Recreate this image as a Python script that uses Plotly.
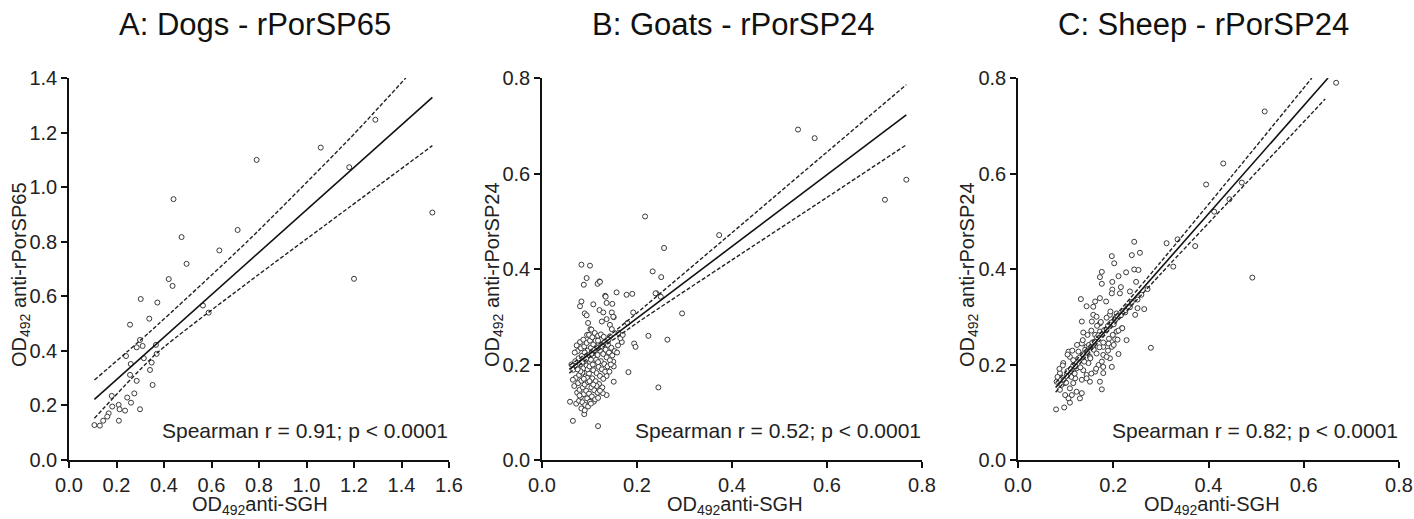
import plotly.graph_objects as go

# ---- data (x = OD492 anti-SGH, y = OD492 anti-rPorSP) ----
dogs_points = [
    (1.29, 1.247), (1.06, 1.145), (0.79, 1.10), (1.18, 1.073), (0.44, 0.956), (1.53, 0.907),
    (0.71, 0.843), (0.474, 0.817), (0.633, 0.768), (0.495, 0.719), (1.20, 0.664), (0.42, 0.663),
    (0.436, 0.638), (0.564, 0.566), (0.588, 0.540), (0.302, 0.590), (0.372, 0.577), (0.338, 0.518),
    (0.257, 0.496), (0.299, 0.44), (0.31, 0.418), (0.285, 0.413), (0.366, 0.422), (0.24, 0.381),
    (0.369, 0.389), (0.315, 0.373), (0.26, 0.352), (0.348, 0.357), (0.341, 0.33), (0.257, 0.312),
    (0.285, 0.29), (0.352, 0.275), (0.275, 0.244), (0.245, 0.229), (0.261, 0.21), (0.18, 0.235),
    (0.209, 0.202), (0.182, 0.196), (0.213, 0.186), (0.236, 0.181), (0.299, 0.186), (0.167, 0.171),
    (0.161, 0.159), (0.144, 0.144), (0.21, 0.144), (0.107, 0.128), (0.13, 0.126),
]
dogs_fit_x = [0.107, 1.53]
dogs_fit_y = [0.222, 1.329]
dogs_upper_x = [0.107, 0.341, 0.75, 1.183, 1.418]
dogs_upper_y = [0.293, 0.470, 0.800, 1.179, 1.400]
dogs_lower_x = [0.107, 0.369, 0.75, 1.183, 1.53]
dogs_lower_y = [0.153, 0.391, 0.648, 0.928, 1.152]

goats_points = [
    (0.539, 0.692), (0.574, 0.674), (0.722, 0.545), (0.767, 0.587), (0.217, 0.510), (0.373, 0.471),
    (0.257, 0.444), (0.233, 0.395), (0.251, 0.383), (0.241, 0.349), (0.25, 0.342), (0.295, 0.307),
    (0.19, 0.348), (0.178, 0.346), (0.192, 0.309), (0.18, 0.287), (0.224, 0.26), (0.264, 0.252),
    (0.194, 0.244), (0.197, 0.237), (0.182, 0.184), (0.245, 0.152), (0.151, 0.164), (0.136, 0.136),
    (0.118, 0.071), (0.089, 0.096), (0.065, 0.082), (0.059, 0.122), (0.109, 0.122), (0.083, 0.409),
    (0.101, 0.407), (0.094, 0.381), (0.088, 0.367), (0.121, 0.374), (0.117, 0.369), (0.157, 0.351),
    (0.133, 0.344), (0.083, 0.332), (0.08, 0.322), (0.108, 0.326), (0.136, 0.329), (0.148, 0.327),
    (0.09, 0.307), (0.094, 0.303), (0.121, 0.314), (0.129, 0.309), (0.147, 0.309), (0.151, 0.299),
    (0.136, 0.295), (0.126, 0.29), (0.097, 0.287), (0.102, 0.274), (0.143, 0.283), (0.147, 0.274),
    (0.095, 0.262), (0.161, 0.266), (0.143, 0.259), (0.168, 0.247), (0.15, 0.206), (0.151, 0.196),
    (0.142, 0.224), (0.136, 0.176), (0.134, 0.342), (0.122, 0.373), (0.239, 0.349), (0.15, 0.3),
    # dense cluster
    (0.072, 0.118), (0.078, 0.124), (0.085, 0.121), (0.091, 0.115), (0.082, 0.132), (0.088, 0.138),
    (0.095, 0.129), (0.101, 0.122), (0.074, 0.141), (0.079, 0.147), (0.086, 0.152), (0.093, 0.145),
    (0.099, 0.139), (0.105, 0.133), (0.112, 0.127), (0.068, 0.155), (0.076, 0.161), (0.083, 0.166),
    (0.09, 0.158), (0.097, 0.163), (0.104, 0.152), (0.11, 0.146), (0.117, 0.141), (0.071, 0.172),
    (0.078, 0.178), (0.085, 0.183), (0.092, 0.175), (0.099, 0.181), (0.106, 0.171), (0.113, 0.165),
    (0.12, 0.159), (0.127, 0.152), (0.066, 0.189), (0.073, 0.195), (0.08, 0.2), (0.087, 0.192),
    (0.094, 0.198), (0.101, 0.205), (0.108, 0.188), (0.115, 0.182), (0.122, 0.176), (0.129, 0.17),
    (0.07, 0.207), (0.077, 0.213), (0.084, 0.218), (0.091, 0.21), (0.098, 0.216), (0.105, 0.222),
    (0.112, 0.2), (0.119, 0.195), (0.126, 0.19), (0.133, 0.185), (0.075, 0.228), (0.082, 0.234),
    (0.089, 0.238), (0.096, 0.229), (0.103, 0.235), (0.11, 0.214), (0.117, 0.22), (0.124, 0.207),
    (0.131, 0.201), (0.138, 0.196), (0.08, 0.247), (0.087, 0.252), (0.094, 0.245), (0.101, 0.25),
    (0.108, 0.242), (0.115, 0.236), (0.122, 0.229), (0.129, 0.222), (0.136, 0.215), (0.143, 0.209),
    (0.099, 0.262), (0.106, 0.257), (0.113, 0.25), (0.12, 0.244), (0.127, 0.238), (0.134, 0.231),
    (0.141, 0.225), (0.148, 0.219), (0.104, 0.273), (0.111, 0.266), (0.118, 0.26), (0.125, 0.253),
    (0.132, 0.247), (0.139, 0.241), (0.146, 0.235), (0.153, 0.228), (0.083, 0.108), (0.09, 0.104),
    (0.097, 0.112), (0.103, 0.118), (0.065, 0.168), (0.062, 0.2), (0.069, 0.225), (0.073, 0.24),
    (0.096, 0.19), (0.1, 0.196), (0.103, 0.21), (0.107, 0.2), (0.11, 0.23), (0.114, 0.21),
    (0.118, 0.205), (0.09, 0.225), (0.085, 0.205), (0.095, 0.172), (0.1, 0.165), (0.088, 0.17),
    (0.081, 0.186), (0.093, 0.212), (0.118, 0.25), (0.124, 0.263), (0.13, 0.258), (0.14, 0.252),
    (0.16, 0.24), (0.165, 0.255), (0.17, 0.262), (0.158, 0.225), (0.145, 0.2), (0.142, 0.185),
    (0.128, 0.14), (0.118, 0.13), (0.075, 0.19), (0.079, 0.135), (0.115, 0.155), (0.122, 0.145),
    (0.108, 0.158),
]
goats_fit_x = [0.0575, 0.767]
goats_fit_y = [0.190, 0.723]
goats_upper_x = [0.0575, 0.11, 0.2, 0.4, 0.6, 0.767]
goats_upper_y = [0.198, 0.235, 0.308, 0.476, 0.645, 0.786]
goats_lower_x = [0.0575, 0.11, 0.2, 0.4, 0.6, 0.767]
goats_lower_y = [0.182, 0.223, 0.287, 0.419, 0.550, 0.660]

sheep_points = [
    (0.668, 0.79), (0.518, 0.730), (0.431, 0.621), (0.395, 0.577), (0.47, 0.581), (0.444, 0.546),
    (0.412, 0.52), (0.492, 0.382), (0.372, 0.448), (0.335, 0.462), (0.312, 0.454), (0.326, 0.405),
    (0.279, 0.235), (0.244, 0.457), (0.239, 0.429), (0.256, 0.434), (0.197, 0.427), (0.202, 0.412),
    (0.176, 0.394), (0.172, 0.383), (0.211, 0.385), (0.227, 0.393), (0.244, 0.399), (0.253, 0.398),
    (0.198, 0.373), (0.216, 0.362), (0.176, 0.369), (0.198, 0.357), (0.197, 0.349), (0.214, 0.349),
    (0.235, 0.353), (0.248, 0.373), (0.132, 0.337), (0.162, 0.332), (0.172, 0.339), (0.185, 0.332),
    (0.144, 0.322), (0.158, 0.321), (0.251, 0.318), (0.265, 0.316), (0.235, 0.32), (0.225, 0.309),
    (0.246, 0.304), (0.207, 0.307), (0.193, 0.304), (0.158, 0.304), (0.165, 0.300), (0.134, 0.29),
    (0.155, 0.29), (0.172, 0.286), (0.193, 0.285), (0.204, 0.297), (0.218, 0.276), (0.207, 0.269),
    (0.137, 0.267), (0.162, 0.262), (0.172, 0.269), (0.183, 0.272), (0.228, 0.251), (0.204, 0.253),
    (0.19, 0.244), (0.197, 0.237), (0.179, 0.237), (0.134, 0.244), (0.144, 0.237), (0.158, 0.234),
    (0.127, 0.227), (0.165, 0.223), (0.179, 0.22), (0.211, 0.222), (0.193, 0.213), (0.106, 0.227),
    (0.109, 0.216), (0.116, 0.209), (0.137, 0.209), (0.151, 0.216), (0.148, 0.203), (0.169, 0.199),
    (0.179, 0.195), (0.197, 0.195), (0.095, 0.203), (0.123, 0.192), (0.137, 0.188), (0.162, 0.185),
    (0.179, 0.182), (0.088, 0.182), (0.106, 0.178), (0.144, 0.178), (0.12, 0.171), (0.134, 0.168),
    (0.151, 0.164), (0.172, 0.164), (0.081, 0.164), (0.099, 0.161), (0.116, 0.161), (0.109, 0.15),
    (0.088, 0.147), (0.123, 0.143), (0.176, 0.148), (0.099, 0.136), (0.113, 0.136), (0.134, 0.14),
    (0.13, 0.129), (0.106, 0.129), (0.109, 0.12), (0.08, 0.106), (0.097, 0.11),
    # points packed along the fitted line
    (0.091, 0.157), (0.096, 0.168), (0.102, 0.176), (0.104, 0.186), (0.111, 0.191), (0.116, 0.198),
    (0.121, 0.196), (0.126, 0.212), (0.129, 0.214), (0.136, 0.221), (0.141, 0.231), (0.146, 0.224),
    (0.149, 0.241), (0.156, 0.246), (0.161, 0.248), (0.166, 0.257), (0.169, 0.261), (0.176, 0.263),
    (0.181, 0.272), (0.186, 0.274), (0.189, 0.281), (0.196, 0.288), (0.201, 0.284), (0.206, 0.296),
    (0.209, 0.301), (0.216, 0.303), (0.221, 0.312), (0.226, 0.314), (0.231, 0.321), (0.239, 0.331),
    (0.251, 0.336), (0.259, 0.346), (0.272, 0.358), (0.101, 0.162), (0.112, 0.174), (0.119, 0.181),
    (0.131, 0.194), (0.139, 0.206), (0.152, 0.213), (0.159, 0.231), (0.171, 0.236), (0.179, 0.246),
    (0.191, 0.254), (0.199, 0.262), (0.211, 0.271), (0.219, 0.276), (0.166, 0.281), (0.174, 0.289),
    (0.186, 0.298), (0.194, 0.311), (0.146, 0.262), (0.154, 0.271), (0.136, 0.251), (0.124, 0.241),
    (0.114, 0.229), (0.104, 0.221), (0.094, 0.198), (0.087, 0.191), (0.083, 0.174), (0.201, 0.241),
    (0.209, 0.252), (0.189, 0.229), (0.176, 0.206), (0.164, 0.191), (0.154, 0.181), (0.144, 0.171),
    (0.186, 0.216),
]
sheep_fit_x = [0.079, 0.651]
sheep_fit_y = [0.152, 0.800]
sheep_upper_x = [0.079, 0.17, 0.3, 0.45, 0.617]
sheep_upper_y = [0.162, 0.262, 0.415, 0.596, 0.800]
sheep_lower_x = [0.079, 0.17, 0.3, 0.45, 0.645]
sheep_lower_y = [0.142, 0.248, 0.390, 0.549, 0.756]

panel_titles = ["A: Dogs - rPorSP65", "B: Goats - rPorSP24", "C: Sheep - rPorSP24"]
y_titles = ["OD<sub>492</sub> anti-rPorSP65", "OD<sub>492</sub> anti-rPorSP24", "OD<sub>492</sub> anti-rPorSP24"]
x_title = "OD<sub>492</sub>anti-SGH"
spearman_texts = ["Spearman r = 0.91; p < 0.0001", "Spearman r = 0.52; p < 0.0001",
                  "Spearman r = 0.82; p < 0.0001"]
x_ranges = [[0, 1.6], [0, 0.8], [0, 0.8]]
y_ranges = [[0, 1.4], [0, 0.8], [0, 0.8]]

FONT = "Arial, Liberation Sans, sans-serif"
W, H = 1414, 519

# pixel geometry of each panel (left, right) and common (top, bottom)
panel_px = [(69, 449), (542, 922), (1018, 1399)]
top_px, bottom_px = 78, 460
title_cx = [255, 733, 1203]
xtitle_cx = [260, 735, 1212]
ytitle_cx = [20, 493, 968]

panels = [
    (dogs_points, dogs_fit_x, dogs_fit_y, dogs_upper_x, dogs_upper_y, dogs_lower_x, dogs_lower_y),
    (goats_points, goats_fit_x, goats_fit_y, goats_upper_x, goats_upper_y, goats_lower_x, goats_lower_y),
    (sheep_points, sheep_fit_x, sheep_fit_y, sheep_upper_x, sheep_upper_y, sheep_lower_x, sheep_lower_y),
]

fig = go.Figure()
annotations = []
label_font = dict(family=FONT, size=20, color="#222")

for i, (pts, fx, fy, ux, uy, lx, ly) in enumerate(panels):
    xa = "x" if i == 0 else f"x{i + 1}"
    ya = "y" if i == 0 else f"y{i + 1}"

    fig.add_trace(go.Scatter(
        x=[p[0] for p in pts], y=[p[1] for p in pts], xaxis=xa, yaxis=ya,
        mode="markers", showlegend=False, cliponaxis=False,
        marker=dict(symbol="circle", size=5, color="white", line=dict(color="#3a3a3a", width=1)),
    ))
    # 95% confidence band (dashed) and regression line (solid)
    for bx, by in [(ux, uy), (lx, ly)]:
        fig.add_trace(go.Scatter(
            x=bx, y=by, xaxis=xa, yaxis=ya, mode="lines", showlegend=False,
            line=dict(color="#222", width=1.4, dash="4px,2px", shape="spline", smoothing=0.6),
        ))
    fig.add_trace(go.Scatter(
        x=fx, y=fy, xaxis=xa, yaxis=ya, mode="lines", showlegend=False,
        line=dict(color="#111", width=1.6),
    ))

    left, right = panel_px[i]
    axis_common = dict(
        showgrid=False, zeroline=False, showline=True, linecolor="#111", linewidth=1.5,
        ticks="outside", ticklen=6, tickwidth=1.5, tickcolor="#111", automargin=False,
        tickfont=dict(family=FONT, size=20, color="#222"), tickformat=".1f", dtick=0.2,
    )
    fig.layout[f"xaxis{'' if i == 0 else i + 1}"] = dict(
        axis_common, domain=[left / W, right / W], range=x_ranges[i], anchor=ya,
    )
    fig.layout[f"yaxis{'' if i == 0 else i + 1}"] = dict(
        axis_common, domain=[1 - bottom_px / H, 1 - top_px / H], range=y_ranges[i], anchor=xa,
    )

    annotations.append(dict(
        text=panel_titles[i], xref="paper", yref="paper", x=title_cx[i] / W, y=1 - 25 / H,
        xanchor="center", yanchor="middle", showarrow=False,
        font=dict(family=FONT, size=31, color="#111"),
    ))
    annotations.append(dict(
        text=spearman_texts[i], xref="paper", yref="paper", x=(right + 1) / W, y=1 - 430 / H,
        xanchor="right", yanchor="middle", showarrow=False,
        font=dict(family=FONT, size=21, color="#222"),
    ))
    # axis titles
    annotations.append(dict(
        text=x_title, xref="paper", yref="paper", x=xtitle_cx[i] / W, y=1 - 505 / H,
        xanchor="center", yanchor="middle", showarrow=False, font=label_font,
    ))
    annotations.append(dict(
        text=y_titles[i], xref="paper", yref="paper", x=ytitle_cx[i] / W, y=1 - 275 / H,
        xanchor="center", yanchor="middle", showarrow=False, textangle=-90, font=label_font,
    ))

fig.update_layout(
    width=W, height=H, margin=dict(l=0, r=0, t=0, b=0, autoexpand=False),
    paper_bgcolor="white", plot_bgcolor="white",
    annotations=annotations, font=dict(family=FONT),
)

# drop the default page margin so the figure sits at the window's top-left corner
fig.write_html("out.html", config={"displayModeBar": False},
               post_script="document.body.style.margin='0';")
